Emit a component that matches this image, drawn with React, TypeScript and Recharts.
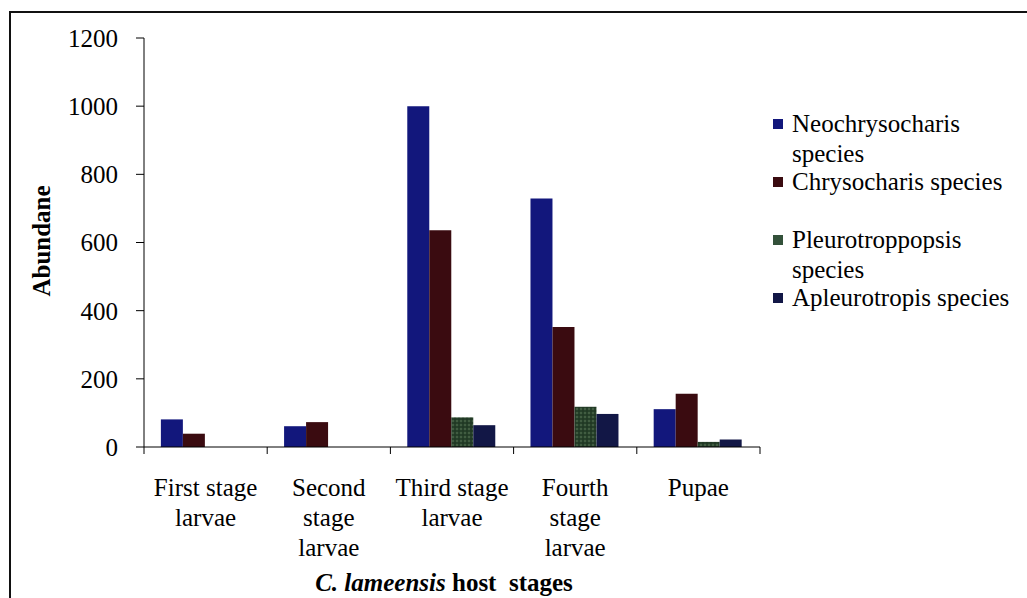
import { Bar, BarChart, Label, Legend, XAxis, YAxis } from "recharts";

const stages = [
  "First stage\nlarvae",
  "Second\nstage\nlarvae",
  "Third stage\nlarvae",
  "Fourth\nstage\nlarvae",
  "Pupae",
];
const neochrysocharis = [81, 61, 1000, 729, 111];
const chrysocharis = [39, 73, 636, 352, 156];
const pleurotroppopsis = [0, 0, 87, 118, 15];
const apleurotropis = [0, 0, 64, 97, 22];
const yTicks = [0, 200, 400, 600, 800, 1000, 1200];

const seriesNames = [
  "Neochrysocharis species",
  "Chrysocharis species",
  "Pleurotroppopsis species",
  "Apleurotropis species",
];
const seriesColors = ["#12177c", "#3a0b10", "#33513a", "#121746"];

const data = stages.map((stage, i) => ({
  stage,
  neo: neochrysocharis[i],
  chryso: chrysocharis[i],
  pleuro: pleurotroppopsis[i],
  apleuro: apleurotropis[i],
}));

const W = 1027;
const H = 598;
const MARGIN = { top: 38, right: 267, bottom: 0, left: 0 };
const Y_AXIS_W = 144;
const PLOT_W = W - MARGIN.left - MARGIN.right - Y_AXIS_W;
const BAND = PLOT_W / stages.length;
const FONT = "Liberation Serif";

const StageTick = (props: any) => {
  const { x, y, payload, index } = props;
  const lines = String(payload.value).split("\n");
  return (
    <g>
      <line x1={x - BAND / 2} x2={x - BAND / 2} y1={y} y2={y + 7} stroke="#000" />
      {index === stages.length - 1 && (
        <line x1={x + BAND / 2} x2={x + BAND / 2} y1={y} y2={y + 7} stroke="#000" />
      )}
      <text x={x} y={y + 49} textAnchor="middle" fontFamily={FONT} fontSize={25} fill="#000">
        {lines.map((l, i) => (
          <tspan key={i} x={x} dy={i === 0 ? 0 : 30}>
            {l}
          </tspan>
        ))}
      </text>
    </g>
  );
};

// legend keeps the series order, not alphabetical
const LegendBox = (props: any) => {
  const items = [...(props.payload || [])].sort(
    (a: any, b: any) => seriesNames.indexOf(a.value) - seriesNames.indexOf(b.value)
  );
  return (
    <div style={{ fontFamily: FONT, fontSize: 25, color: "#000" }}>
      {items.map((p: any, i: number) => (
        <div key={i} style={{ height: 58, display: "flex", alignItems: "flex-start" }}>
          <span
            style={{
              display: "inline-block",
              width: 10,
              height: 10,
              background: seriesColors[seriesNames.indexOf(p.value)],
              marginTop: 10,
              marginRight: 9,
              flexShrink: 0,
            }}
          />
          <span style={{ lineHeight: "30px", width: 230 }}>{p.value}</span>
        </div>
      ))}
    </div>
  );
};

const App = () => {
  return (
    <div style={{ position: "absolute", left: 0, top: 0, width: W, height: H, background: "#fff", overflow: "hidden" }}>
      <div
        style={{
          position: "absolute",
          left: 9,
          top: 11,
          width: 1100,
          height: 700,
          borderLeft: "2px solid #111",
          borderTop: "2px solid #111",
        }}
      />
      <BarChart
        width={W}
        height={H}
        data={data}
        margin={MARGIN}
        barGap={0}
        barCategoryGap="13.7%"
        style={{ position: "absolute", left: 0, top: 0 }}
      >
        <defs>
          <pattern id="speckle" width="4" height="4" patternUnits="userSpaceOnUse">
            <rect width="4" height="4" fill="#26402a" />
            <circle cx="1" cy="1" r="0.7" fill="#6f8c68" />
            <circle cx="3" cy="3" r="0.7" fill="#172a18" />
          </pattern>
        </defs>
        <XAxis
          dataKey="stage"
          height={151}
          interval={0}
          tickLine={false}
          tickSize={0}
          tickMargin={0}
          axisLine={{ stroke: "#000" }}
          tick={<StageTick />}
        >
          <Label
            content={() => (
              <text x={444} y={591} textAnchor="middle" fontFamily={FONT} fontSize={25} fontWeight="bold" fill="#000" style={{ whiteSpace: "pre" }}>
                <tspan fontStyle="italic">C. lameensis</tspan>
                <tspan>{" host  stages"}</tspan>
              </text>
            )}
          />
        </XAxis>
        <YAxis
          width={Y_AXIS_W}
          domain={[0, 1200]}
          ticks={yTicks}
          interval={0}
          tickSize={8}
          tickMargin={18}
          axisLine={{ stroke: "#000" }}
          tickLine={{ stroke: "#000" }}
          tick={{ fill: "#000", fontSize: 25, fontFamily: FONT }}
        >
          <Label
            content={() => (
              <text
                transform="translate(50,241) rotate(-90)"
                textAnchor="middle"
                fontFamily={FONT}
                fontSize={25}
                fontWeight="bold"
                fill="#000"
              >
                Abundane
              </text>
            )}
          />
        </YAxis>
        <Legend
          layout="vertical"
          align="center"
          verticalAlign="middle"
          content={<LegendBox />}
          wrapperStyle={{ left: 773, top: 109, width: 254, height: 240 }}
        />
        <Bar dataKey="neo" name={seriesNames[0]} fill={seriesColors[0]} isAnimationActive={false} />
        <Bar dataKey="chryso" name={seriesNames[1]} fill={seriesColors[1]} isAnimationActive={false} />
        <Bar dataKey="pleuro" name={seriesNames[2]} fill="url(#speckle)" isAnimationActive={false} />
        <Bar dataKey="apleuro" name={seriesNames[3]} fill={seriesColors[3]} isAnimationActive={false} />
      </BarChart>
    </div>
  );
};

export default App;
